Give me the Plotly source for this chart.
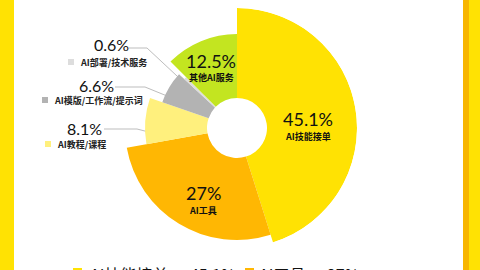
import plotly.graph_objects as go

# ---- data ----
categories = ["AI技能接单", "AI工具", "AI教程/课程", "AI模版/工作流/提示词", "AI部署/技术服务", "其他AI服务"]
shares = [45.1, 27, 8.1, 6.6, 0.6, 12.5]
pct_labels = ["45.1%", "27%", "8.1%", "6.6%", "0.6%", "12.5%"]
ring_radius = [120, 112, 92, 79, 72, 94]   # rose radius of each sector
colors = ["#FFE203", "#FFB703", "#FFF07D", "#B3B3B3", "#DDDDDD", "#C3E520"]

W, H = 480, 270
CX, CY, R, HOLE = 237, 128, 120, 30

# angular positions from cumulative shares
total = sum(shares)
theta, width, acc = [], [], 0.0
for s in shares:
    w = s / total * 360
    theta.append(acc + w / 2)
    width.append(w)
    acc += w

fig = go.Figure(go.Barpolar(
    theta=theta, width=width,
    r=[rr - HOLE for rr in ring_radius], base=HOLE,
    marker=dict(color=colors, line=dict(width=0)),
    hoverinfo="skip",
))

def px(x): return x / W
def py(y): return 1 - y / H

fig.update_layout(
    width=W, height=H, margin=dict(l=0, r=0, t=0, b=0),
    paper_bgcolor="white", showlegend=False,
    polar=dict(
        domain=dict(x=[px(CX - R), px(CX + R)], y=[py(CY + R), py(CY - R)]),
        bgcolor="rgba(0,0,0,0)",
        radialaxis=dict(visible=False, range=[0, R]),
        angularaxis=dict(visible=False, rotation=90, direction="clockwise"),
    ),
)

shapes = []
# side bars
shapes.append(dict(type="rect", xref="paper", yref="paper", x0=0, x1=px(14), y0=0, y1=1,
                   fillcolor="#FFE203", line=dict(width=0), layer="below"))
shapes.append(dict(type="rect", xref="paper", yref="paper", x0=px(463), x1=px(469), y0=0, y1=1,
                   fillcolor="#F7B500", line=dict(width=0), layer="below"))
shapes.append(dict(type="rect", xref="paper", yref="paper", x0=px(469), x1=1, y0=0, y1=1,
                   fillcolor="#FFE203", line=dict(width=0), layer="below"))

ann = []
NUM_FONT = "Lato, 'Noto Sans CJK SC', sans-serif"
CJK = "'Noto Sans CJK SC', sans-serif"

def add_text(x, y, text, size, family, color="#111", xanchor="center"):
    ann.append(dict(x=px(x), y=py(y), xref="paper", yref="paper", text=text,
                    xanchor=xanchor, yanchor="middle", showarrow=False,
                    font=dict(family=family, size=size, color=color)))

# inside labels (index: x, y)
inside = {0: (308, 119), 1: (203, 193), 5: (211, 61)}
for i, (x, y) in inside.items():
    add_text(x, y, pct_labels[i], 18, NUM_FONT)
    add_text(x, y + 17, "<b>" + categories[i] + "</b>", 9, CJK)

# outside labels: index -> (pct center x, pct y, square x, label y, leader path)
outside = {
    4: (111, 45, 68, 62, [(129, 48), (147, 48), (207, 104)]),
    3: (96, 85, 42, 100, [(115, 87), (145, 87), (172, 98)]),
    2: (84, 128, 45, 144, [(104, 129), (137, 129), (168, 137)]),
}
for i, (x, y, sx, ly, path) in outside.items():
    add_text(x, y, pct_labels[i], 16, NUM_FONT)
    shapes.append(dict(type="rect", xref="paper", yref="paper", x0=px(sx), x1=px(sx + 6),
                       y0=py(ly + 3), y1=py(ly - 3), fillcolor=colors[i], line=dict(width=0)))
    add_text(sx + 10, ly, "<b>" + categories[i] + "</b>", 9, CJK, "#222", "left")
    d = "M " + " L ".join(f"{px(a)} {py(b)}" for a, b in path)
    shapes.append(dict(type="path", xref="paper", yref="paper", path=d,
                       line=dict(color="#BDBDBD", width=1), layer="below"))

# bottom legend (cropped by the frame)
for i, (sx, tx) in zip([0, 1], [(73, 88), (245, 257)]):
    shapes.append(dict(type="rect", xref="paper", yref="paper", x0=px(sx), x1=px(sx + 9),
                       y0=py(278), y1=py(268), fillcolor=colors[i], line=dict(width=0)))
    add_text(tx, 274, f"{categories[i]} — {pct_labels[i]}", 16, CJK, "#111", "left")

fig.update_layout(shapes=shapes, annotations=ann)
fig.write_html("out.html")
